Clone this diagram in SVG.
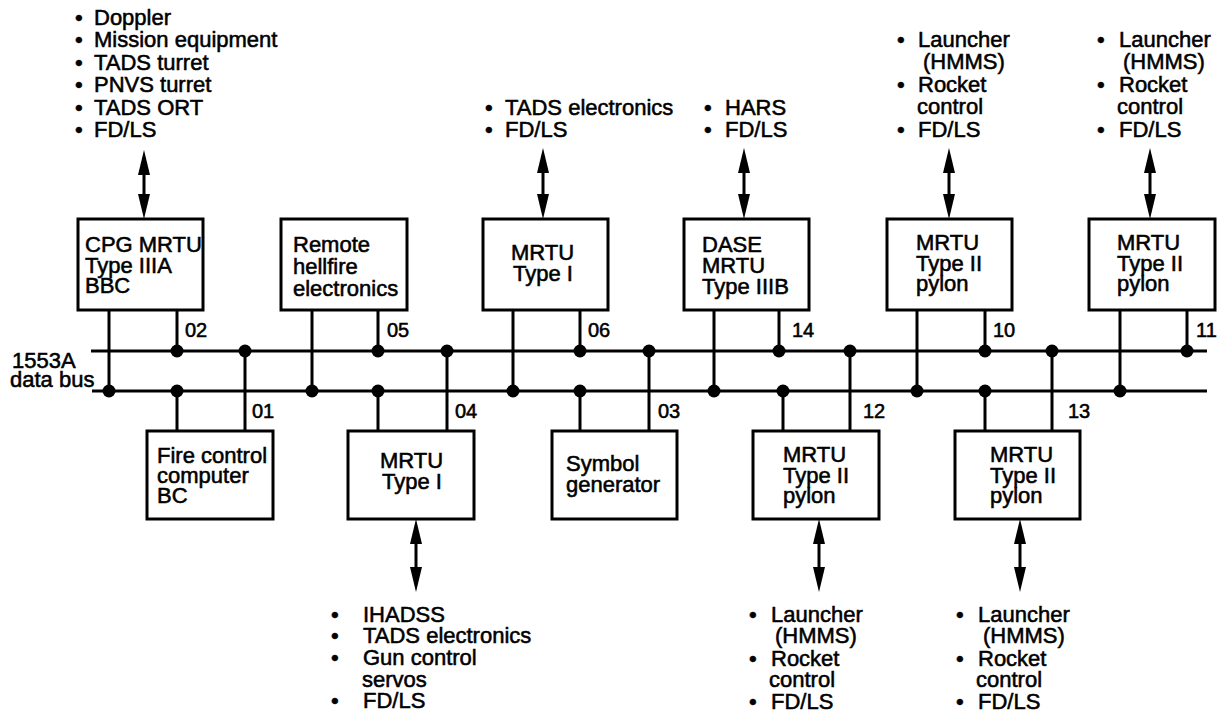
<svg xmlns="http://www.w3.org/2000/svg" width="1221" height="714" viewBox="0 0 1221 714">
<style>
text{font-family:"Liberation Sans",Arial,Helvetica,sans-serif;font-size:22px;fill:#000;stroke:#000;stroke-width:0.55}
.num{font-size:20px}
.box{fill:#fff;stroke:#000;stroke-width:3}
.bus{stroke:#000;stroke-width:3;fill:none}
.drop{stroke:#000;stroke-width:3;fill:none}
.arr{stroke:#000;stroke-width:3;fill:none;marker-start:url(#ah);marker-end:url(#ah)}
.dot{fill:#000}
</style>
<defs>
<marker id="ah" viewBox="0 0 25 12" markerWidth="25" markerHeight="12" markerUnits="userSpaceOnUse" refX="15" refY="6" orient="auto-start-reverse">
<path d="M0,0 L25,6 L0,12 Z" fill="#000"/>
</marker>
</defs>
<rect width="1221" height="714" fill="#fff"/>

<g id="connectors">
<line class="bus" x1="91" y1="351" x2="1207" y2="351"/>
<line class="bus" x1="92" y1="391" x2="1207" y2="391"/>
<path class="drop" d="M109,310V391 M177,310V351 M312,310V391 M378,310V351 M513,310V391 M580,310V351 M714,310V391 M779,310V351 M917,310V391 M985,310V351 M1120,310V391 M1187,310V351"/>
<path class="drop" d="M177,391V431 M245,351V431 M378,391V431 M447,351V431 M580,391V431 M649,351V431 M783,391V431 M850,351V431 M985,391V431 M1052,351V431"/>
<g class="dot">
<circle cx="177" cy="351" r="6.5"/><circle cx="245" cy="351" r="6.5"/><circle cx="378" cy="351" r="6.5"/><circle cx="447" cy="351" r="6.5"/><circle cx="580" cy="351" r="6.5"/><circle cx="649" cy="351" r="6.5"/><circle cx="779" cy="351" r="6.5"/><circle cx="850" cy="351" r="6.5"/><circle cx="985" cy="351" r="6.5"/><circle cx="1052" cy="351" r="6.5"/><circle cx="1187" cy="351" r="6.5"/>
<circle cx="109" cy="391" r="6.5"/><circle cx="177" cy="391" r="6.5"/><circle cx="312" cy="391" r="6.5"/><circle cx="378" cy="391" r="6.5"/><circle cx="513" cy="391" r="6.5"/><circle cx="580" cy="391" r="6.5"/><circle cx="714" cy="391" r="6.5"/><circle cx="783" cy="391" r="6.5"/><circle cx="917" cy="391" r="6.5"/><circle cx="985" cy="391" r="6.5"/><circle cx="1120" cy="391" r="6.5"/>
</g>
<line class="arr" x1="144" y1="160" x2="144" y2="209"/>
<line class="arr" x1="543" y1="158" x2="543" y2="209"/>
<line class="arr" x1="744" y1="158" x2="744" y2="209"/>
<line class="arr" x1="949" y1="158" x2="949" y2="209"/>
<line class="arr" x1="1150" y1="158" x2="1150" y2="209"/>
<line class="arr" x1="416" y1="529" x2="416" y2="582"/>
<line class="arr" x1="819" y1="529" x2="819" y2="582"/>
<line class="arr" x1="1020" y1="529" x2="1020" y2="582"/>
<g class="labels">
<text class="num" x="185" y="337">02</text>
<text class="num" x="387" y="337">05</text>
<text class="num" x="588" y="337">06</text>
<text class="num" x="792" y="337">14</text>
<text class="num" x="993" y="337">10</text>
<text class="num" x="1196" y="337">11</text>
<text class="num" x="252" y="418">01</text>
<text class="num" x="455" y="418">04</text>
<text class="num" x="658" y="418">03</text>
<text class="num" x="863" y="418">12</text>
<text class="num" x="1068" y="418">13</text>
</g>
</g>

<g id="bus-label">
<text><tspan x="12" y="368">1553A</tspan><tspan x="10" y="387">data bus</tspan></text>
</g>

<g id="cpg">
<rect class="box" x="78" y="219" width="125" height="91"/>
<text><tspan x="85" y="252">CPG MRTU</tspan><tspan x="85" y="273">Type IIIA</tspan><tspan x="85" y="293">BBC</tspan></text>
</g>
<g id="remote-hellfire">
<rect class="box" x="281" y="219" width="126" height="91"/>
<text><tspan x="293" y="252">Remote</tspan><tspan x="293" y="274">hellfire</tspan><tspan x="293" y="296">electronics</tspan></text>
</g>
<g id="mrtu-06">
<rect class="box" x="483" y="219" width="125" height="91"/>
<text><tspan x="511" y="260">MRTU</tspan><tspan x="513" y="281">Type I</tspan></text>
</g>
<g id="dase">
<rect class="box" x="684" y="219" width="125" height="91"/>
<text><tspan x="702" y="252">DASE</tspan><tspan x="702" y="273">MRTU</tspan><tspan x="702" y="294">Type IIIB</tspan></text>
</g>
<g id="pylon-10">
<rect class="box" x="887" y="219" width="125" height="91"/>
<text><tspan x="916" y="250">MRTU</tspan><tspan x="916" y="271">Type II</tspan><tspan x="916" y="291">pylon</tspan></text>
</g>
<g id="pylon-11">
<rect class="box" x="1089" y="219" width="126" height="91"/>
<text><tspan x="1117" y="250">MRTU</tspan><tspan x="1117" y="271">Type II</tspan><tspan x="1117" y="291">pylon</tspan></text>
</g>

<g id="fire-control">
<rect class="box" x="147" y="431" width="126" height="88"/>
<text><tspan x="157" y="463">Fire control</tspan><tspan x="157" y="483">computer</tspan><tspan x="157" y="503">BC</tspan></text>
</g>
<g id="mrtu-04">
<rect class="box" x="348" y="431" width="126" height="88"/>
<text><tspan x="380" y="468">MRTU</tspan><tspan x="382" y="489">Type I</tspan></text>
</g>
<g id="symbol-generator">
<rect class="box" x="552" y="431" width="125" height="88"/>
<text><tspan x="566" y="471">Symbol</tspan><tspan x="566" y="492">generator</tspan></text>
</g>
<g id="pylon-12">
<rect class="box" x="753" y="431" width="126" height="88"/>
<text><tspan x="783" y="462">MRTU</tspan><tspan x="783" y="483">Type II</tspan><tspan x="783" y="503">pylon</tspan></text>
</g>
<g id="pylon-13">
<rect class="box" x="955" y="431" width="125" height="88"/>
<text><tspan x="990" y="462">MRTU</tspan><tspan x="990" y="483">Type II</tspan><tspan x="990" y="503">pylon</tspan></text>
</g>

<g id="list-cpg">
<text><tspan x="75" y="25">•</tspan><tspan x="94" y="25">Doppler</tspan><tspan x="75" y="47">•</tspan><tspan x="94" y="47">Mission equipment</tspan><tspan x="75" y="70">•</tspan><tspan x="94" y="70">TADS turret</tspan><tspan x="75" y="92">•</tspan><tspan x="94" y="92">PNVS turret</tspan><tspan x="75" y="115">•</tspan><tspan x="94" y="115">TADS ORT</tspan><tspan x="75" y="137">•</tspan><tspan x="94" y="137">FD/LS</tspan></text>
</g>
<g id="list-mrtu-06">
<text><tspan x="485" y="115">•</tspan><tspan x="505" y="115">TADS electronics</tspan><tspan x="485" y="137">•</tspan><tspan x="505" y="137">FD/LS</tspan></text>
</g>
<g id="list-dase">
<text><tspan x="704" y="115">•</tspan><tspan x="725" y="115">HARS</tspan><tspan x="704" y="137">•</tspan><tspan x="725" y="137">FD/LS</tspan></text>
</g>
<g id="list-pylon-10">
<text><tspan x="897" y="47">•</tspan><tspan x="918" y="47">Launcher</tspan><tspan x="923" y="69">(HMMS)</tspan><tspan x="897" y="92">•</tspan><tspan x="918" y="92">Rocket</tspan><tspan x="917" y="114">control</tspan><tspan x="897" y="137">•</tspan><tspan x="918" y="137">FD/LS</tspan></text>
</g>
<g id="list-pylon-11">
<text><tspan x="1097" y="47">•</tspan><tspan x="1119" y="47">Launcher</tspan><tspan x="1123" y="69">(HMMS)</tspan><tspan x="1097" y="92">•</tspan><tspan x="1119" y="92">Rocket</tspan><tspan x="1117" y="114">control</tspan><tspan x="1097" y="137">•</tspan><tspan x="1119" y="137">FD/LS</tspan></text>
</g>
<g id="list-mrtu-04">
<text><tspan x="331" y="622">•</tspan><tspan x="363" y="622">IHADSS</tspan><tspan x="331" y="643">•</tspan><tspan x="363" y="643">TADS electronics</tspan><tspan x="331" y="665">•</tspan><tspan x="363" y="665">Gun control</tspan><tspan x="362" y="687">servos</tspan><tspan x="331" y="708">•</tspan><tspan x="363" y="708">FD/LS</tspan></text>
</g>
<g id="list-pylon-12">
<text><tspan x="749" y="622">•</tspan><tspan x="771" y="622">Launcher</tspan><tspan x="775" y="643">(HMMS)</tspan><tspan x="749" y="666">•</tspan><tspan x="771" y="666">Rocket</tspan><tspan x="769" y="687">control</tspan><tspan x="749" y="709">•</tspan><tspan x="771" y="709">FD/LS</tspan></text>
</g>
<g id="list-pylon-13">
<text><tspan x="956" y="622">•</tspan><tspan x="978" y="622">Launcher</tspan><tspan x="983" y="643">(HMMS)</tspan><tspan x="956" y="666">•</tspan><tspan x="978" y="666">Rocket</tspan><tspan x="976" y="687">control</tspan><tspan x="956" y="709">•</tspan><tspan x="978" y="709">FD/LS</tspan></text>
</g>
</svg>
